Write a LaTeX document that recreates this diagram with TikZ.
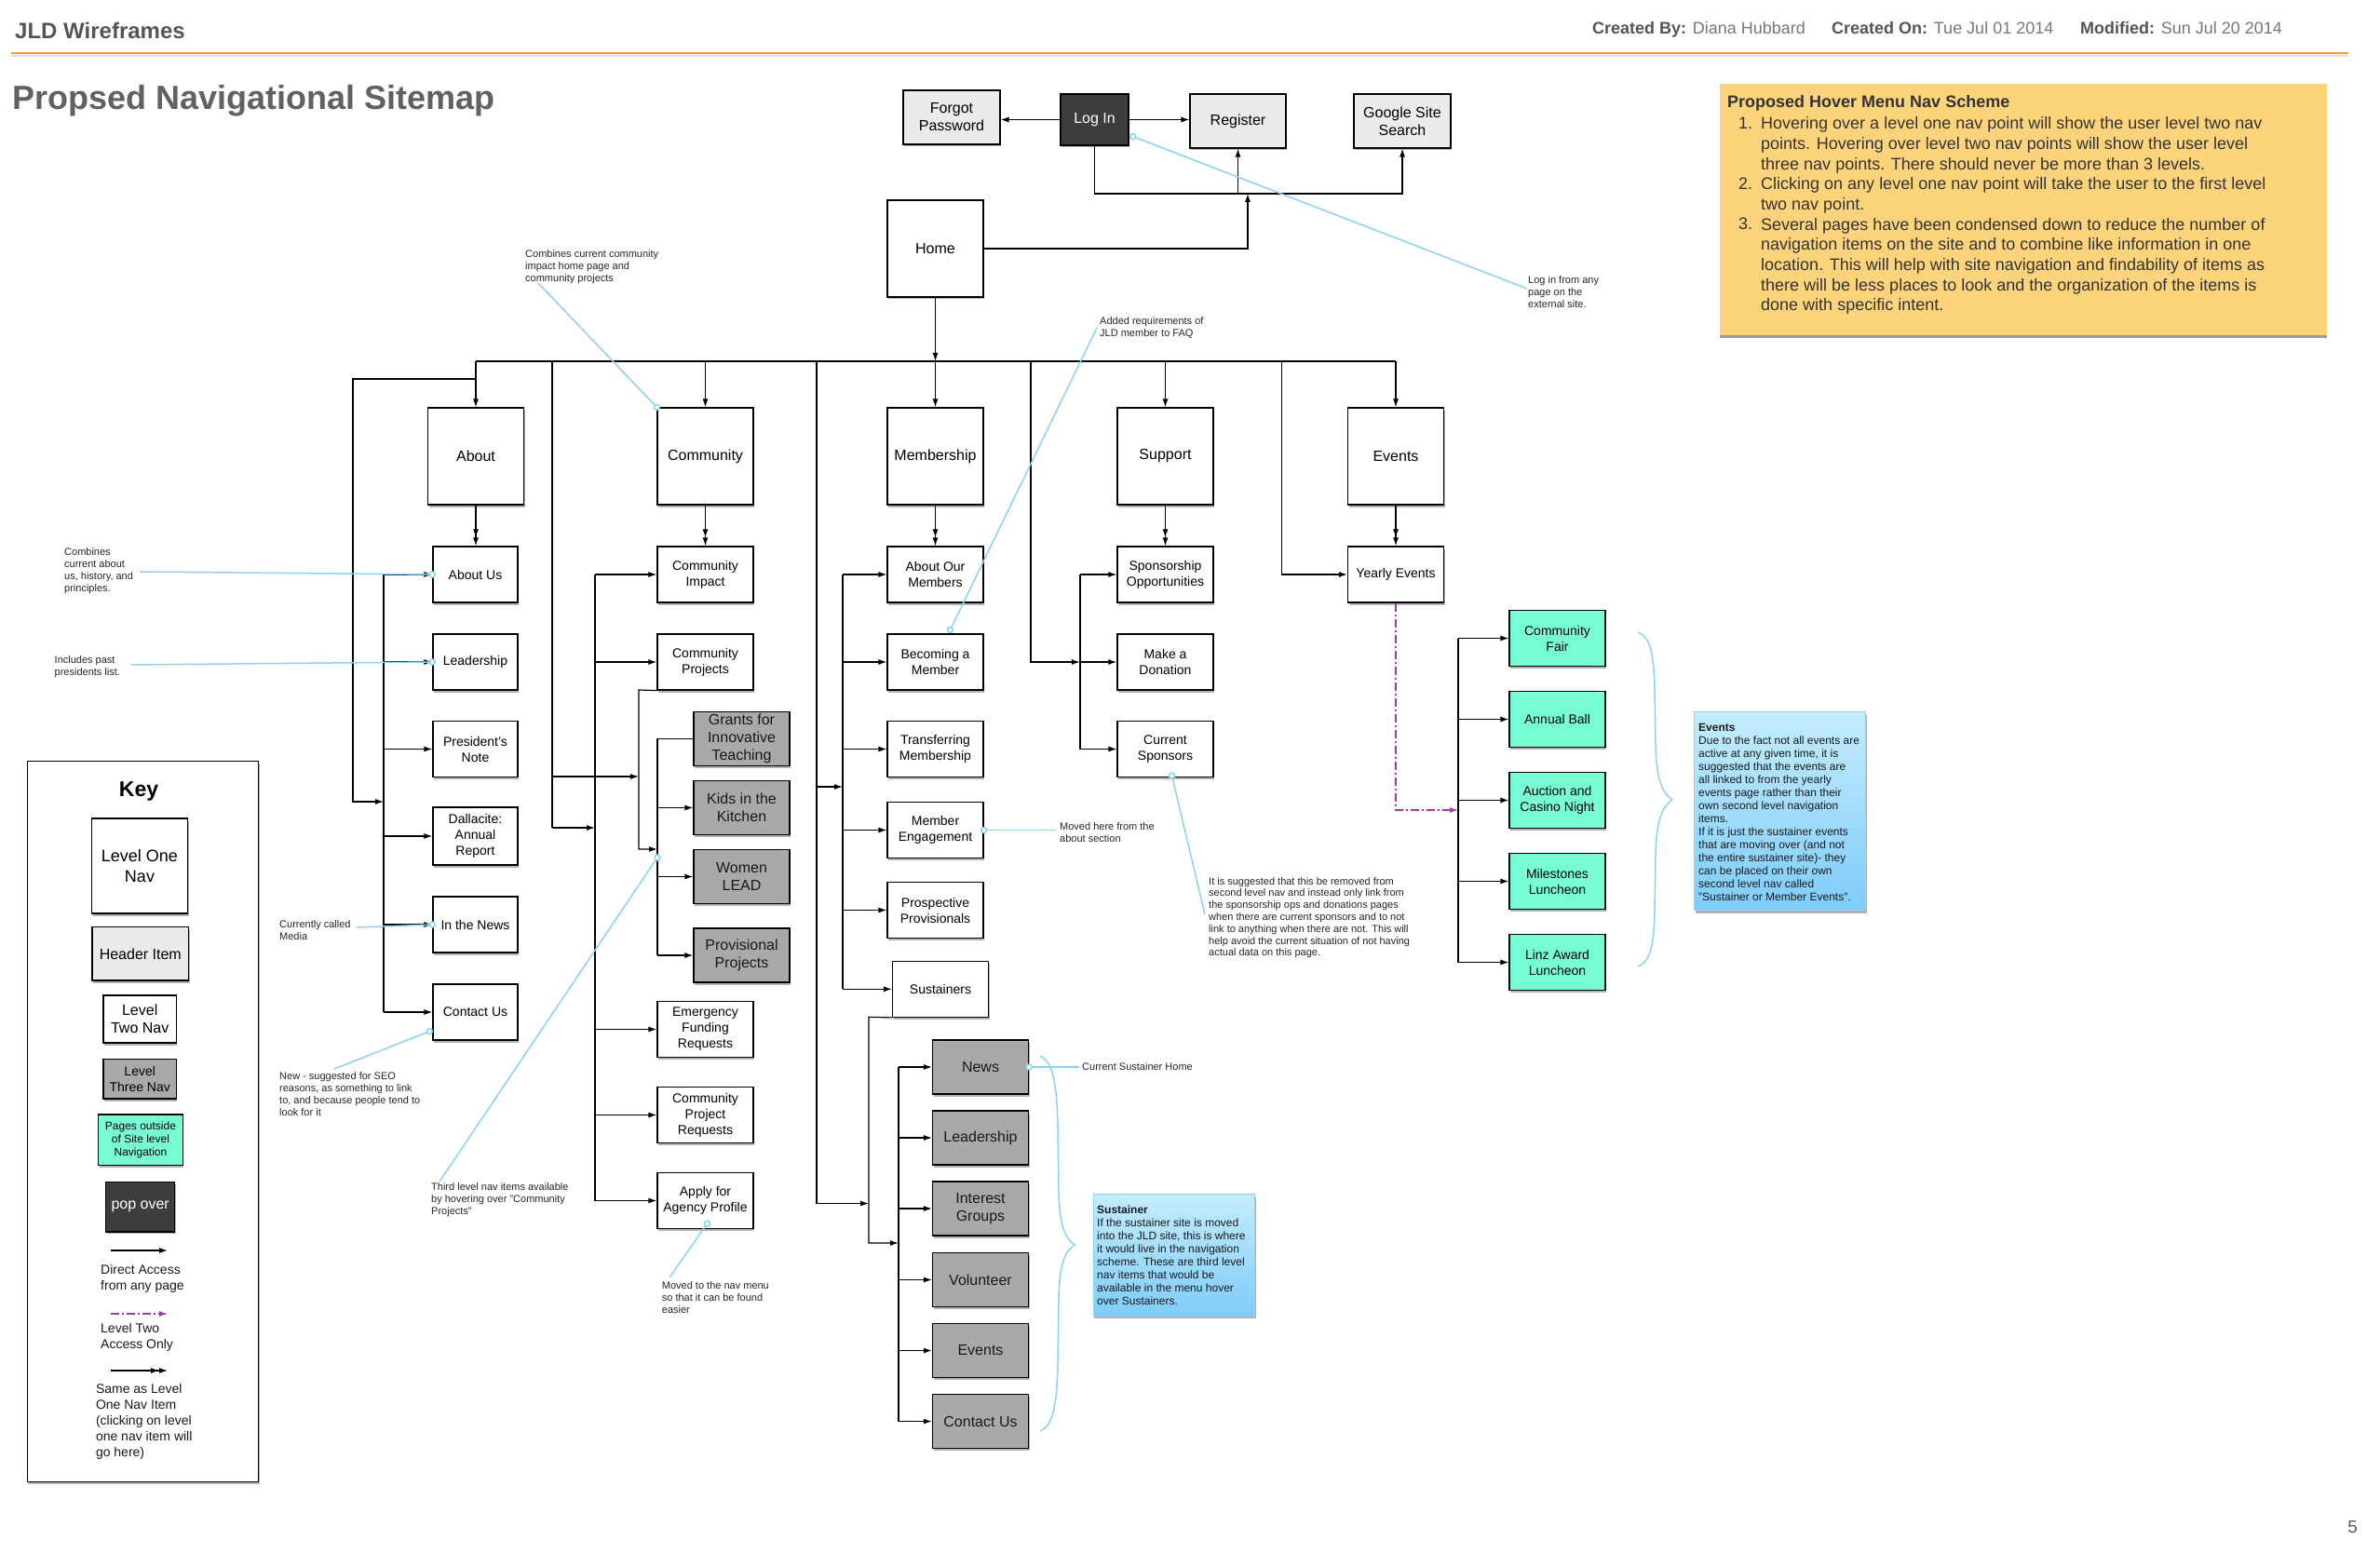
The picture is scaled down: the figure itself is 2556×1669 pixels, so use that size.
\documentclass[tikz,border=0pt]{standalone}
\usepackage{fontspec}
\setmainfont{Liberation Sans}
\usetikzlibrary{arrows.meta,shadows,calc}
\newcommand{\fsz}[2]{\fontsize{#1}{#2}\selectfont}
\definecolor{hdrgray}{HTML}{EBEBEB}
\definecolor{lvthree}{HTML}{A9A9A9}
\definecolor{popdark}{HTML}{3D3D3D}
\definecolor{grn}{HTML}{78FCD6}
\definecolor{leadblue}{HTML}{8CD2F2}
\definecolor{notetop}{HTML}{C4ECFD}
\definecolor{notebot}{HTML}{7FCCFA}
\definecolor{noteedge}{HTML}{8ED4F8}
\definecolor{orangenote}{HTML}{FDD37C}
\definecolor{orangeline}{HTML}{F0A136}
\definecolor{purp}{HTML}{A03CA8}
\definecolor{txtgray}{HTML}{555555}
\definecolor{valgray}{HTML}{777777}
\begin{document}
\begin{tikzpicture}[x=1pt,y=-1pt,
  shd/.style={drop shadow={shadow xshift=1pt,shadow yshift=-2.5pt,opacity=0.3,fill=black}},
  bx/.style={draw=black,line width=1.2pt,inner sep=0pt,align=center,shd},
  lone/.style={bx,fill=white,minimum width=103pt,minimum height=104pt,font=\fsz{16}{19}},
  ltwo/.style={bx,fill=white,minimum width=103pt,minimum height=60pt,font=\fsz{14}{17}},
  ltwoa/.style={ltwo,minimum width=91pt},
  lthree/.style={bx,fill=lvthree,minimum width=103pt,minimum height=58pt,font=\fsz{16}{19},text=black!90},
  ext/.style={bx,fill=grn,minimum width=103pt,minimum height=60pt,font=\fsz{14}{17}},
  hdr/.style={bx,fill=hdrgray,minimum width=104pt,minimum height=58pt,font=\fsz{16}{19}},
  ln/.style={line width=1.2pt},
  arr/.style={ln,-{Latex[length=9pt,width=6pt]}},
  darr/.style={ln,-{Latex[length=9pt,width=6pt]Latex[length=9pt,width=6pt]}},
  lead/.style={draw=leadblue,line width=1.5pt},
  ann/.style={inner sep=0pt,align=left,anchor=north west,text=black!85,font=\fsz{11}{13}},
  note/.style={draw=noteedge,line width=1pt,top color=notetop,bottom color=notebot,inner sep=0pt,anchor=north west,drop shadow={shadow xshift=1pt,shadow yshift=-3pt,opacity=0.3,fill=black}},
  notetxt/.style={inner sep=0pt,align=left,anchor=north west,text=black!90,font=\fsz{12}{14}},
  keytxt/.style={inner sep=0pt,align=left,anchor=north west,text=black!90,font=\fsz{14}{17}},
]
\useasboundingbox (0,0) rectangle (2556,1669);
\fill[white] (0,0) rectangle (2556,1669);

% ---------- header ----------
\node[anchor=base west,inner sep=0pt,font=\bfseries\fsz{24}{28},text=txtgray] (jld) at (16,42) {JLD Wireframes};
\node[anchor=base west,inner sep=0pt,font=\fsz{18}{22},text=valgray] (cby) at (1710,37) {\textcolor{txtgray}{\bfseries Created By:} Diana Hubbard};
\node[anchor=base west,inner sep=0pt,font=\fsz{18}{22},text=valgray] (con) at (1967,37) {\textcolor{txtgray}{\bfseries Created On:} Tue Jul 01 2014};
\node[anchor=base west,inner sep=0pt,font=\fsz{18}{22},text=valgray] (mdf) at (2234,37) {\textcolor{txtgray}{\bfseries Modified:} Sun Jul 20 2014};
\draw[black!12,line width=2.5pt] (12,60) -- (2522,60);
\draw[orangeline,line width=2pt] (12,57) -- (2522,57);
\node[anchor=base west,inner sep=0pt,font=\bfseries\fsz{36}{40},text=black!62] (title) at (13,118) {Propsed Navigational Sitemap};
\node[anchor=base east,inner sep=0pt,font=\fsz{19}{22},text=black!65] (pg) at (2532,1646) {5};

% ---------- hover note ----------
\node[fill=orangenote,minimum width=652pt,minimum height=270pt,inner sep=0pt,anchor=north west,drop shadow={shadow xshift=0pt,shadow yshift=-3pt,opacity=0.4,fill=black}] (hover) at (1847,90) {};
\node[anchor=base west,inner sep=0pt,font=\bfseries\fsz{18}{22},text=black!80] (hovt) at (1855,116) {Proposed Hover Menu Nav Scheme};
\node[anchor=base west,inner sep=0pt,font=\fsz{18}{22},text=black!80] (hn1) at (1867,138.3) {1.};
\node[anchor=base west,inner sep=0pt,font=\fsz{18}{22},text=black!80] (hn2) at (1867,203.4) {2.};
\node[anchor=base west,inner sep=0pt,font=\fsz{18}{22},text=black!80] (hn3) at (1867,246.8) {3.};
\node[anchor=north west,inner sep=0pt,align=left,font=\fsz{18}{21.7},text=black!80] (hovtxt) at (1891,125.4) {Hovering over a level one nav point will show the user level two nav\\points. Hovering over level two nav points will show the user level\\three nav points. There should never be more than 3 levels.\\Clicking on any level one nav point will take the user to the first level\\two nav point.\\Several pages have been condensed down to reduce the number of\\navigation items on the site and to combine like information in one\\location. This will help with site navigation and findability of items as\\there will be less places to look and the organization of the items is\\done with specific intent.};

% ---------- top row ----------
\node[hdr] (forgot) at (1022,126) {Forgot\\Password};
\node[bx,fill=popdark,text=white,minimum width=73pt,minimum height=55pt,font=\fsz{16}{19}] (login) at (1175.5,128.5) {Log In};
\node[hdr,minimum width=103pt] (register) at (1329.5,130) {Register};
\node[hdr] (google) at (1506,130) {Google Site\\Search};
\node[lone] (home) at (1004.5,267) {Home};

\coordinate (tbus) at (0,208);
\coordinate (hup) at (1340,208);
\coordinate (mbus) at (0,388);
\draw[arr] (login.west) -- (login.west -| forgot.east);
\draw[arr] (login.east) -- (login.east -| register.west);
\draw[arr] (login.south) |- (tbus -| google.south) -- (google.south);
\draw[arr] (tbus -| register.south) -- (register.south);
\draw[arr] (home.east) -| (hup);
\draw[arr] (home.south) -- (home.south |- mbus);

% ---------- level one ----------
\node[lone] (about) at (511,490) {About};
\node[lone] (community) at (757.5,490) {Community};
\node[lone] (membership) at (1004.5,490) {Membership};
\node[lone] (support) at (1251.5,490) {Support};
\node[lone] (events) at (1499,490) {Events};
\draw[ln] (about.north |- mbus) -- (events.north |- mbus);
\foreach \n in {about,community,membership,support,events} \draw[arr] (\n.north |- mbus) -- (\n.north);

% ---------- About column ----------
\node[ltwoa] (aboutus) at (510.5,617) {About Us};
\node[ltwoa] (leadership) at (510.5,711) {Leadership};
\node[ltwoa] (presnote) at (510.5,804.5) {President's\\Note};
\node[ltwoa,minimum height=62pt] (dallacite) at (510.5,898) {Dallacite:\\Annual\\Report};
\node[ltwoa] (inthenews) at (510.5,993) {In the News};
\node[ltwoa] (contactus) at (510.5,1087) {Contact Us};
\draw[darr] (about.south) -- (about.south |- aboutus.north);
\coordinate (absb) at (412,0);
\draw[ln] (absb |- aboutus.west) -- (absb |- contactus.west);
\foreach \n in {aboutus,leadership,presnote,dallacite,inthenews,contactus} \draw[arr] (absb |- \n.west) -- (\n.west);
\draw[arr] (511,407) -- (379,407) -- (379,861) -- (412,861);

% ---------- Community column ----------
\node[ltwo] (cimpact) at (757.5,617) {Community\\Impact};
\node[ltwo] (cprojects) at (757.5,711) {Community\\Projects};
\node[lthree] (grants) at (796.5,793.5) {Grants for\\Innovative\\Teaching};
\node[lthree] (kids) at (796.5,867.5) {Kids in the\\Kitchen};
\node[lthree] (women) at (796.5,941.5) {Women\\LEAD};
\node[lthree] (provisional) at (796.5,1026) {Provisional\\Projects};
\node[ltwo] (emergency) at (757.5,1105.5) {Emergency\\Funding\\Requests};
\node[ltwo] (cpr) at (757.5,1197.5) {Community\\Project\\Requests};
\node[ltwo] (apply) at (757.5,1289.5) {Apply for\\Agency Profile};
\draw[darr] (community.south) -- (cimpact.north);
\coordinate (cosb) at (639,0);
\draw[ln] (cosb |- cimpact.west) -- (cosb |- apply.west);
\foreach \n in {cimpact,cprojects,emergency,cpr,apply} \draw[arr] (cosb |- \n.west) -- (\n.west);
\draw[ln] (593,388) -- (593,889);
\draw[arr] (593,889) -- (639,889);
\draw[arr] (593,834) -- (686,834);
\draw[arr] (cprojects.south west) -- (686,741) -- (686,912) -- (706,912);
\coordinate (l3sb) at (706,0);
\draw[ln] (grants.west) -- (l3sb |- grants.west) -- (l3sb |- provisional.west);
\foreach \n in {kids,women,provisional} \draw[arr] (l3sb |- \n.west) -- (\n.west);

% ---------- Membership column ----------
\node[ltwo] (aom) at (1004.5,617) {About Our\\Members};
\node[ltwo] (becoming) at (1004.5,711) {Becoming a\\Member};
\node[ltwo] (transferring) at (1004.5,804.5) {Transferring\\Membership};
\node[ltwo] (engagement) at (1004.5,891.5) {Member\\Engagement};
\node[ltwo] (prospective) at (1004.5,977.5) {Prospective\\Provisionals};
\node[ltwo] (sustainers) at (1010,1062.3) {Sustainers};
\draw[darr] (membership.south) -- (aom.north);
\coordinate (mesb) at (905,0);
\draw[ln] (mesb |- aom.west) -- (mesb |- sustainers.west);
\foreach \n in {aom,becoming,transferring,engagement,prospective,sustainers} \draw[arr] (mesb |- \n.west) -- (\n.west);
\draw[ln] (877,388) -- (877,1292.5);
\draw[arr] (877,845) -- (905,845);
\draw[arr] (877,1292.5) -- (933,1292.5);
\draw[arr] (sustainers.south west) -- (933,1092.3) -- (933,1335) -- (965,1335);

\node[lthree] (snews) at (1053,1146) {News};
\node[lthree] (sleader) at (1053,1222) {Leadership};
\node[lthree] (sinterest) at (1053,1298) {Interest\\Groups};
\node[lthree] (svolunteer) at (1053,1374.5) {Volunteer};
\node[lthree] (sevents) at (1053,1450.5) {Events};
\node[lthree] (scontact) at (1053,1526.5) {Contact Us};
\coordinate (susb) at (965,0);
\draw[ln] (susb |- snews.west) -- (susb |- scontact.west);
\foreach \n in {snews,sleader,sinterest,svolunteer,sevents,scontact} \draw[arr] (susb |- \n.west) -- (\n.west);

% ---------- Support column ----------
\node[ltwo] (sponsorship) at (1251.5,617) {Sponsorship\\Opportunities};
\node[ltwo] (donation) at (1251.5,711) {Make a\\Donation};
\node[ltwo] (currentsp) at (1251.5,804.5) {Current\\Sponsors};
\draw[darr] (support.south) -- (sponsorship.north);
\coordinate (spsb) at (1160,0);
\draw[ln] (spsb |- sponsorship.west) -- (spsb |- currentsp.west);
\foreach \n in {sponsorship,donation,currentsp} \draw[arr] (spsb |- \n.west) -- (\n.west);
\draw[arr] (1107,388) -- (1107,711) -- (1160,711);

% ---------- Events column ----------
\node[ltwo] (yearly) at (1499,617) {Yearly Events};
\draw[darr] (events.south) -- (yearly.north);
\draw[arr] (1376.5,388) -- (1376.5,617) -- (yearly.west);
\node[ext] (cfair) at (1672.5,685.5) {Community\\Fair};
\node[ext] (aball) at (1672.5,772.5) {Annual Ball};
\node[ext] (auction) at (1672.5,859.5) {Auction and\\Casino Night};
\node[ext] (milestones) at (1672.5,946.5) {Milestones\\Luncheon};
\node[ext] (linz) at (1672.5,1033.5) {Linz Award\\Luncheon};
\coordinate (evsb) at (1566,0);
\draw[ln] (evsb |- cfair.west) -- (evsb |- linz.west);
\foreach \n in {cfair,aball,auction,milestones,linz} \draw[arr] (evsb |- \n.west) -- (\n.west);
\draw[purp,line width=1.2pt,dash pattern=on 9pt off 3pt on 2pt off 3pt,-{Latex[length=9pt,width=6pt]}] (yearly.south) -- (1499,870) -- (1566,870);

% ---------- braces ----------
\draw[leadblue,line width=1.5pt] (1759,679) .. controls (1772,684) and (1776,700) .. (1777,740) -- (1778,800) .. controls (1779,840) and (1786,852) .. (1796,859) .. controls (1786,866) and (1779,878) .. (1778,918) -- (1777,978) .. controls (1776,1018) and (1772,1033) .. (1759,1038);
\draw[leadblue,line width=1.5pt] (1117,1134) .. controls (1130,1140) and (1135,1160) .. (1136,1210) -- (1137,1280) .. controls (1138,1318) and (1144,1330) .. (1154,1337) .. controls (1144,1344) and (1138,1356) .. (1137,1394) -- (1136,1464) .. controls (1135,1514) and (1130,1531) .. (1117,1537);

% ---------- blue notes ----------
\node[note,minimum width=184pt,minimum height=213pt] (evnote) at (1819,764) {};
\node[notetxt] (evnotetxt) at (1824,776.7) {\textbf{Events}\\Due to the fact not all events are\\active at any given time, it is\\suggested that the events are\\all linked to from the yearly\\events page rather than their\\own second level navigation\\items.\\If it is just the sustainer events\\that are moving over (and not\\the entire sustainer site)- they\\can be placed on their own\\second level nav called\\"Sustainer or Member Events".};
\node[note,minimum width=173.5pt,minimum height=130.5pt] (susnote) at (1173.5,1282) {};
\node[notetxt] (susnotetxt) at (1178,1294.5) {\textbf{Sustainer}\\If the sustainer site is moved\\into the JLD site, this is where\\it would live in the navigation\\scheme. These are third level\\nav items that would be\\available in the menu hover\\over Sustainers.};

% ---------- annotations ----------
\node[ann] (a1) at (564,268) {Combines current community\\impact home page and\\community projects};
\node[ann] (a2) at (1181,340.5) {Added requirements of\\JLD member to FAQ};
\node[ann] (a3) at (1641,296.5) {Log in from any\\page on the\\external site.};
\node[ann] (a4) at (69,588) {Combines\\current about\\us, history, and\\principles.};
\node[ann] (a5) at (58.5,704) {Includes past\\presidents list.};
\node[ann] (a6) at (300,988) {Currently called\\Media};
\node[ann] (a7) at (300,1151.5) {New - suggested for SEO\\reasons, as something to link\\to, and because people tend to\\look for it};
\node[ann] (a8) at (463,1270.6) {Third level nav items available\\by hovering over "Community\\Projects"};
\node[ann] (a9) at (710.7,1376) {Moved to the nav menu\\so that it can be found\\easier};
\node[ann] (a10) at (1138,883) {Moved here from the\\about section};
\node[ann,font=\fsz{11}{12.8}] (a11) at (1298,942) {It is suggested that this be removed from\\second level nav and instead only link from\\the sponsorship ops and donations pages\\when there are current sponsors and to not\\link to anything when there are not. This will\\help avoid the current situation of not having\\actual data on this page.};
\node[ann,anchor=west] (a12) at (1162,1146) {Current Sustainer Home};

% ---------- leader lines ----------
\coordinate (e2) at ($(becoming.north)+(16,-4)$);
\coordinate (e3) at ($(login.south east)+(4,-10)$);
\coordinate (e7) at ($(contactus.south west)+(-3,-10)$);
\coordinate (e8) at (706,921);
\coordinate (e9) at ($(apply.south)+(2,-6)$);
\coordinate (e11) at ($(currentsp.south)+(7,-2)$);
\draw[lead] (578,304) -- (community.north west);
\draw[lead] (1178,352) -- (e2);
\draw[lead] (e3) -- (1640,310);
\draw[lead] (150,614) -- (aboutus.west);
\draw[lead] (141,714) -- (leadership.west);
\draw[lead] (383,996) -- (inthenews.west);
\draw[lead] (359,1148) -- (e7);
\draw[lead] (472,1269) -- (e8);
\draw[lead] (719,1372) -- (e9);
\draw[lead] (engagement.east) -- (1134,891.5);
\draw[lead] (e11) -- (1294,982);
\draw[lead] (snews.east) -- (1158.7,1146);
\foreach \p in {community.north west,e2,e3,aboutus.west,leadership.west,inthenews.west,e7,e8,e9,engagement.east,e11,snews.east}
  \draw[lead,fill=white] (\p) circle[radius=3pt];

% ---------- key ----------
\node[draw=black,line width=1.2pt,fill=white,minimum width=248.3pt,minimum height=774pt,anchor=north west,inner sep=0pt,shd] (keybox) at (28.7,816.6) {};
\node[inner sep=0pt,font=\bfseries\fsz{23}{27}] (keyt) at (149,850) {Key};
\node[bx,fill=white,minimum width=103pt,minimum height=102pt,font=\fsz{18}{22}] (klone) at (150,930) {Level One\\Nav};
\node[bx,fill=hdrgray,minimum width=103.6pt,minimum height=57.3pt,font=\fsz{16}{19}] (khdr) at (150.8,1024.4) {Header Item};
\node[bx,fill=white,minimum width=78.4pt,minimum height=51pt,font=\fsz{16}{19}] (ktwo) at (150.2,1094.5) {Level\\Two Nav};
\node[bx,fill=lvthree,minimum width=78.4pt,minimum height=42.4pt,font=\fsz{14}{17}] (kthree) at (150.2,1158.8) {Level\\Three Nav};
\node[bx,fill=grn,minimum width=90.7pt,minimum height=54.8pt,font=\fsz{12}{14}] (kgreen) at (151,1224.4) {Pages outside\\of Site level\\Navigation};
\node[bx,fill=popdark,text=white,minimum width=74pt,minimum height=53.5pt,font=\fsz{16}{19}] (kpop) at (150.7,1296.2) {pop over};
\coordinate (k1a) at (119,1343); \coordinate (k1b) at (180,1343);
\coordinate (k2a) at (119,1411); \coordinate (k2b) at (180,1411);
\coordinate (k3a) at (119,1472); \coordinate (k3b) at (180,1472);
\draw[arr] (k1a) -- (k1b);
\draw[purp,line width=1.2pt,dash pattern=on 9pt off 3pt on 2pt off 3pt,-{Latex[length=9pt,width=6pt]}] (k2a) -- (k2b);
\draw[darr] (k3a) -- (k3b);
\node[keytxt] (k1t) at (108,1358) {Direct Access\\from any page};
\node[keytxt] (k2t) at (108,1421) {Level Two\\Access Only};
\node[keytxt] (k3t) at (102.8,1486) {Same as Level\\One Nav Item\\(clicking on level\\one nav item will\\go here)};
\end{tikzpicture}
\end{document}
